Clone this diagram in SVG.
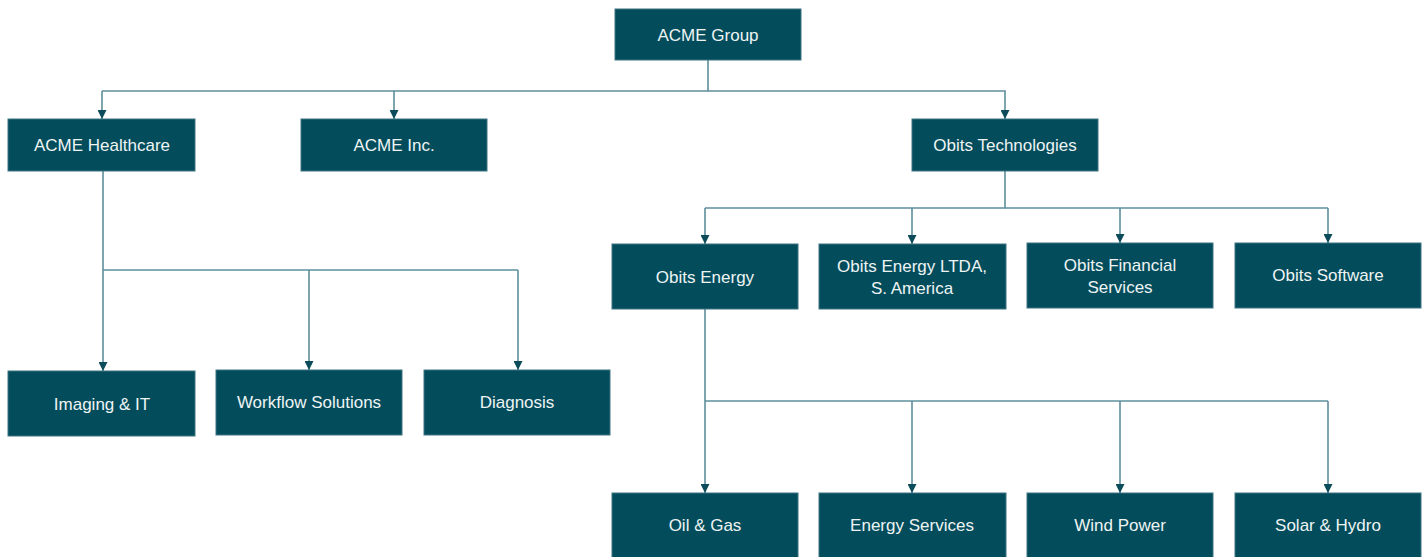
<svg xmlns="http://www.w3.org/2000/svg" width="1428" height="557" viewBox="0 0 1428 557">
<defs>
<style>
.box{fill:#034c5b;stroke:#3f7582;stroke-width:1}
.lbl{font-family:"Liberation Sans",Arial,sans-serif;font-size:17px;fill:#eef4f4;text-anchor:middle;dominant-baseline:central}
.ln{fill:none;stroke:#5d8f9b;stroke-width:1.6}
</style>
<marker id="ah" viewBox="0 0 10 10" refX="10" refY="5" markerWidth="9" markerHeight="9" markerUnits="userSpaceOnUse" orient="auto">
<path d="M0,0 L10,5 L0,10 Z" fill="#0c4c5a"/>
</marker>
</defs>
<rect width="1428" height="557" fill="#ffffff"/>
<g id="connectors">
<path class="ln" d="M708,60 V91 H102"/>
<path class="ln" d="M102,91 V119" marker-end="url(#ah)"/>
<path class="ln" d="M394,91 V119" marker-end="url(#ah)"/>
<path class="ln" d="M708,91 H1005 V119" marker-end="url(#ah)"/>
<path class="ln" d="M103,171 V371" marker-end="url(#ah)"/>
<path class="ln" d="M103,270 H518"/>
<path class="ln" d="M309,270 V370" marker-end="url(#ah)"/>
<path class="ln" d="M518,270 V370" marker-end="url(#ah)"/>
<path class="ln" d="M1005,171 V208 H705"/>
<path class="ln" d="M705,208 V244" marker-end="url(#ah)"/>
<path class="ln" d="M912,208 V244" marker-end="url(#ah)"/>
<path class="ln" d="M1005,208 H1328"/>
<path class="ln" d="M1120,208 V243" marker-end="url(#ah)"/>
<path class="ln" d="M1328,208 V243" marker-end="url(#ah)"/>
<path class="ln" d="M705,309 V493" marker-end="url(#ah)"/>
<path class="ln" d="M705,401 H1328"/>
<path class="ln" d="M912,401 V493" marker-end="url(#ah)"/>
<path class="ln" d="M1120,401 V493" marker-end="url(#ah)"/>
<path class="ln" d="M1328,401 V493" marker-end="url(#ah)"/>
</g>
<g id="acme-group"><rect class="box" x="615" y="9" width="186" height="51"/><text class="lbl" x="708" y="35">ACME Group</text></g>
<g id="acme-healthcare"><rect class="box" x="8" y="119" width="187" height="52"/><text class="lbl" x="102" y="145">ACME Healthcare</text></g>
<g id="acme-inc"><rect class="box" x="301" y="119" width="186" height="52"/><text class="lbl" x="394" y="145">ACME Inc.</text></g>
<g id="obits-technologies"><rect class="box" x="912" y="119" width="186" height="52"/><text class="lbl" x="1005" y="145">Obits Technologies</text></g>
<g id="imaging-it"><rect class="box" x="8" y="371" width="187" height="65"/><text class="lbl" x="102" y="404">Imaging &amp; IT</text></g>
<g id="workflow-solutions"><rect class="box" x="216" y="370" width="186" height="65"/><text class="lbl" x="309" y="402">Workflow Solutions</text></g>
<g id="diagnosis"><rect class="box" x="424" y="370" width="186" height="65"/><text class="lbl" x="517" y="402">Diagnosis</text></g>
<g id="obits-energy"><rect class="box" x="612" y="244" width="186" height="65"/><text class="lbl" x="705" y="277">Obits Energy</text></g>
<g id="obits-energy-ltda"><rect class="box" x="819" y="244" width="187" height="65"/><text class="lbl" x="912" y="266">Obits Energy LTDA,</text><text class="lbl" x="912" y="288">S. America</text></g>
<g id="obits-financial"><rect class="box" x="1027" y="243" width="186" height="65"/><text class="lbl" x="1120" y="265">Obits Financial</text><text class="lbl" x="1120" y="287">Services</text></g>
<g id="obits-software"><rect class="box" x="1235" y="243" width="186" height="65"/><text class="lbl" x="1328" y="275">Obits Software</text></g>
<g id="oil-gas"><rect class="box" x="612" y="493" width="186" height="66"/><text class="lbl" x="705" y="525">Oil &amp; Gas</text></g>
<g id="energy-services"><rect class="box" x="819" y="493" width="187" height="66"/><text class="lbl" x="912" y="525">Energy Services</text></g>
<g id="wind-power"><rect class="box" x="1027" y="493" width="186" height="66"/><text class="lbl" x="1120" y="525">Wind Power</text></g>
<g id="solar-hydro"><rect class="box" x="1235" y="493" width="186" height="66"/><text class="lbl" x="1328" y="525">Solar &amp; Hydro</text></g>
</svg>
